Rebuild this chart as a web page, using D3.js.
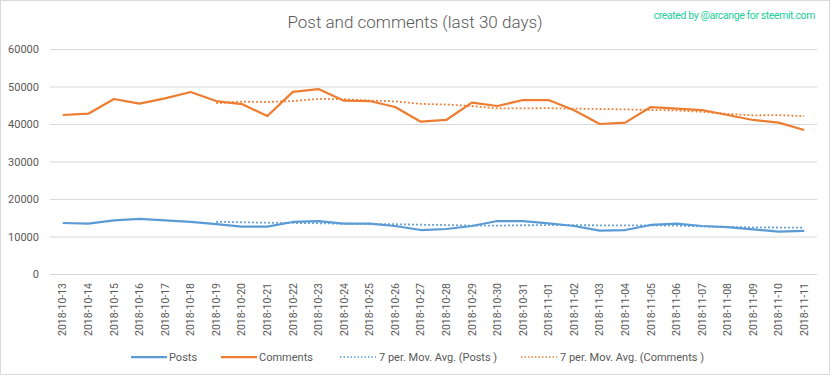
<!DOCTYPE html>
<html>
<head>
<meta charset="utf-8">
<script src="https://cdn.jsdelivr.net/npm/d3@7"></script>
<style>
  body { margin: 0; background: #fff; }
  svg text { font-family: Roboto, "Open Sans", sans-serif; fill: #595959; }
</style>
</head>
<body>
<svg id="chart" width="832" height="378"></svg>
<script>
var dates = ["2018-10-13","2018-10-14","2018-10-15","2018-10-16","2018-10-17","2018-10-18","2018-10-19",
  "2018-10-20","2018-10-21","2018-10-22","2018-10-23","2018-10-24","2018-10-25","2018-10-26","2018-10-27",
  "2018-10-28","2018-10-29","2018-10-30","2018-10-31","2018-11-01","2018-11-02","2018-11-03","2018-11-04",
  "2018-11-05","2018-11-06","2018-11-07","2018-11-08","2018-11-09","2018-11-10","2018-11-11"];

var posts = [13600,13420,14310,14670,14310,13870,13330,12620,12620,13870,14130,13420,13420,12800,11730,
  12000,12800,14130,14130,13500,12800,11560,11730,13070,13420,12800,12530,11910,11290,11470];

var comments = [42400,42750,46670,45420,46840,48530,46130,45330,42130,48550,49330,46220,46130,44530,40620,
  41070,45690,44800,46400,46400,43650,40000,40360,44530,44090,43730,42400,41070,40360,38400];

var yTicks = [0,10000,20000,30000,40000,50000,60000];

var blue = "#5b9bd5", orange = "#ed7d31";

// 7 period moving average trendline, as the spreadsheet draws it
function movAvg(values, n) {
  return values.map((v, i) => i < n - 1 ? null : d3.mean(values.slice(i - n + 1, i + 1)));
}

var svg = d3.select("#chart");
var plotLeft = 50, plotRight = 817, plotTop = 49, plotBottom = 274;

var x = d3.scaleBand().domain(dates).range([plotLeft, plotRight]);
var y = d3.scaleLinear().domain([0, 60000]).range([plotBottom, plotTop]);
var cx = d => x(d) + x.bandwidth() / 2;

svg.append("rect")
    .attr("x", 0.5).attr("y", 0.5)
    .attr("width", 829).attr("height", 374)
    .attr("fill", "none")
    .attr("stroke", "#d9d9d9");

svg.append("text")
    .attr("x", 415).attr("y", 28)
    .style("font-size", "17px")
    .style("font-weight", 300)
    .style("text-anchor", "middle")
    .text("Post and comments (last 30 days)");

svg.append("text")
    .attr("x", 815).attr("y", 19)
    .style("font-size", "10.5px")
    .style("letter-spacing", "-0.4px")
    .style("fill", "#22cf9b")
    .style("text-anchor", "end")
    .text("created by @arcange for steemit.com");

// gridlines + y labels
var yAxis = svg.append("g")
    .attr("transform", "translate(" + plotLeft + ",0)")
    .call(d3.axisLeft(y).tickValues(yTicks).tickSize(-(plotRight - plotLeft)).tickPadding(11).tickFormat(d3.format("d")));
yAxis.select(".domain").remove();
yAxis.selectAll(".tick line").attr("stroke", "#d9d9d9");
yAxis.selectAll(".tick text").style("font-size", "11px").style("fill", "#595959");

// x labels
var xAxis = svg.append("g")
    .attr("transform", "translate(0," + plotBottom + ")")
    .call(d3.axisBottom(x).tickSize(0));
xAxis.select(".domain").remove();
xAxis.selectAll(".tick text")
    .style("font-size", "10.5px")
    .style("fill", "#595959")
    .style("text-anchor", "end")
    .attr("transform", "rotate(-90)")
    .attr("x", -9).attr("y", 0).attr("dy", "0.35em");

var line = d3.line()
    .defined(d => d[1] != null)
    .x(d => cx(d[0]))
    .y(d => y(d[1]));

function drawSeries(values, color, dotted) {
  svg.append("path")
      .datum(dates.map((d, i) => [d, values[i]]))
      .attr("fill", "none")
      .attr("stroke", color)
      .attr("stroke-width", dotted ? 1.8 : 2.25)
      .attr("stroke-dasharray", dotted ? "1.8,2.2" : null)
      .attr("stroke-linejoin", "round")
      .attr("d", line);
}

drawSeries(movAvg(posts, 7), blue, true);
drawSeries(movAvg(comments, 7), orange, true);
drawSeries(posts, blue, false);
drawSeries(comments, orange, false);

// legend
var legendItems = [
  { label: "Posts", color: blue, dotted: false, x: 131 },
  { label: "Comments", color: orange, dotted: false, x: 221 },
  { label: "7 per. Mov. Avg. (Posts )", color: blue, dotted: true, x: 340 },
  { label: "7 per. Mov. Avg. (Comments )", color: orange, dotted: true, x: 521 }
];

var legend = svg.append("g")
    .selectAll("g")
    .data(legendItems)
    .enter()
    .append("g")
      .attr("transform", d => "translate(" + d.x + ",357)");

legend.append("line")
    .attr("x1", 0).attr("x2", 36)
    .attr("stroke", d => d.color)
    .attr("stroke-width", d => d.dotted ? 1.5 : 2.25)
    .attr("stroke-dasharray", d => d.dotted ? "1.5,2" : null);

legend.append("text")
    .attr("x", d => d.dotted ? 39 : 38)
    .attr("dy", "0.35em")
    .style("font-size", "11px")
    .text(d => d.label);
</script>
</body>
</html>
